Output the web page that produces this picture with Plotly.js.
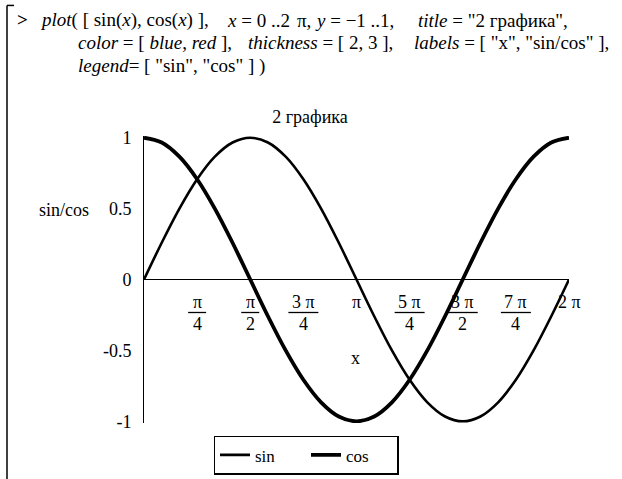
<!DOCTYPE html>
<html>
<head>
<meta charset="utf-8">
<script src="https://cdn.plot.ly/plotly-3.0.1.min.js"></script>
<style>html,body{margin:0;padding:0;background:#fff;}#chart{width:622px;height:479px;}</style>
</head>
<body>
<div id="chart"></div>
<script>
// ---- data ----
var xs = [0,0.2618,0.5236,0.7854,1.0472,1.309,1.5708,1.8326,2.0944,2.3562,2.618,2.8798,3.1416,3.4034,3.6652,3.927,4.1888,4.4506,4.7124,4.9742,5.236,5.4978,5.7596,6.0214,6.2832];
var sinVals = [0,0.259,0.5,0.707,0.866,0.966,1,0.966,0.866,0.707,0.5,0.259,0,-0.259,-0.5,-0.707,-0.866,-0.966,-1,-0.966,-0.866,-0.707,-0.5,-0.259,0];
var cosVals = [1,0.966,0.866,0.707,0.5,0.259,0,-0.259,-0.5,-0.707,-0.866,-0.966,-1,-0.966,-0.866,-0.707,-0.5,-0.259,0,0.259,0.5,0.707,0.866,0.966,1];
var seriesNames = ['sin','cos'];
var xTickVals = [0.7854,1.5708,2.3562,3.1416,3.927,4.7124,5.4978,6.2832];
var xTickNum = ['π','π','3 π','π','5 π','3 π','7 π','2 π'];
var xTickDen = ['4','2','4','','4','2','4',''];
var yTickVals = [-1,-0.5,0,0.5,1];
var yTickText = ['-1','-0.5','0','0.5','1'];
var codeTexts = [
  '<i>plot</i>( [ sin(<i>x</i>), cos(<i>x</i>) ],', '<i>x</i> = 0 ..2', 'π,', '<i>y</i> = −1 ..1,', '<i>title</i> = "2 графика",',
  '<i>color</i> = [ <i>blue</i>, <i>red</i> ],', '<i>thickness</i> = [ 2, 3 ],', '<i>labels</i> = [ "x", "sin/cos" ],',
  '<i>legend</i>= [ "sin", "cos" ] )'
];
var codeRow = [0, 0, 0, 0, 0, 1, 1, 1, 2];

// ---- layout helpers ----
var FW = 622, FH = 479;
var L = 144, R = 569, T = 136.3, B = 422.7;
var PW = R - L, PH = B - T;
function px(x){ return (x - L) / PW; }
function py(y){ return (B - y) / PH; }
var FONT = 'Liberation Serif';
var codeSegX = [39, 226, 296, 314, 417, 77, 247, 413, 77];
var rowY = [21, 43, 66];

var traces = [
  {x: xs, y: sinVals, name: seriesNames[0], type: 'scatter', mode: 'lines',
   line: {color: '#000', width: 2.6, shape: 'spline'}},
  {x: xs, y: cosVals, name: seriesNames[1], type: 'scatter', mode: 'lines',
   line: {color: '#000', width: 3.8, shape: 'spline'}}
];

var annotations = [];
var shapes = [];

// x tick labels as fractions
xTickVals.forEach(function(v, i){
  annotations.push({x: v, y: 0, xref: 'x', yref: 'y', text: xTickNum[i], showarrow: false,
    xanchor: 'center', yanchor: 'middle', yshift: -22, font: {family: FONT, size: 18, color: '#000'}});
  if (xTickDen[i]) {
    annotations.push({x: v, y: 0, xref: 'x', yref: 'y', text: xTickDen[i], showarrow: false,
      xanchor: 'center', yanchor: 'middle', yshift: -44, font: {family: FONT, size: 18, color: '#000'}});
    var w = xTickNum[i].length > 1 ? 15 : 9;
    shapes.push({type: 'line', xref: 'x', yref: 'y', xsizemode: 'pixel', ysizemode: 'pixel',
      xanchor: v, yanchor: 0, x0: -w, x1: w, y0: -33, y1: -33, line: {color: '#000', width: 1.3}});
  }
});

// axis labels
annotations.push({x: px(355), y: py(358), xref: 'paper', yref: 'paper', text: 'x', showarrow: false,
  xanchor: 'center', yanchor: 'middle', font: {family: FONT, size: 18, color: '#000'}});
annotations.push({x: px(64), y: py(210), xref: 'paper', yref: 'paper', text: 'sin/cos', showarrow: false,
  xanchor: 'center', yanchor: 'middle', font: {family: FONT, size: 18, color: '#000'}});

// Maple input code
annotations.push({x: px(15), y: py(20), xref: 'paper', yref: 'paper', text: '<b>&gt;</b>', showarrow: false,
  xanchor: 'left', yanchor: 'middle', font: {family: FONT, size: 19, color: '#000'}});
codeTexts.forEach(function(t, i){
  annotations.push({x: px(codeSegX[i]), y: py(rowY[codeRow[i]]), xref: 'paper', yref: 'paper', text: t,
    showarrow: false, xanchor: 'left', yanchor: 'middle', borderpad: 0,
    font: {family: FONT, size: 19, color: '#000'}});
});

// worksheet bracket
shapes.push({type: 'line', xref: 'paper', yref: 'paper', x0: px(7), x1: px(7), y0: py(6), y1: py(479),
  line: {color: '#000', width: 1.5}});
shapes.push({type: 'line', xref: 'paper', yref: 'paper', x0: px(7), x1: px(14), y0: py(6), y1: py(6),
  line: {color: '#000', width: 1.5}});

var layout = {
  width: FW, height: FH,
  margin: {l: L, r: FW - R, t: T, b: FH - B, pad: 0, autoexpand: false},
  paper_bgcolor: '#fff', plot_bgcolor: '#fff',
  font: {family: FONT, size: 18, color: '#000'},
  title: {text: '2 графика', xref: 'paper', x: px(310), xanchor: 'center',
          yref: 'container', y: 1 - 117 / FH, yanchor: 'middle', automargin: false,
          font: {family: FONT, size: 18, color: '#000'}},
  xaxis: {range: [0, 6.2832], showgrid: false, zeroline: false, showline: false, automargin: false,
          showticklabels: false, ticks: '', fixedrange: true},
  yaxis: {range: [-1.012, 1.012], showgrid: false, zeroline: true, zerolinecolor: '#000', zerolinewidth: 1,
          showline: true, linecolor: '#000', linewidth: 1, ticks: '', automargin: false,
          tickvals: yTickVals, ticktext: yTickText, ticklabelstandoff: 8,
          tickfont: {family: FONT, size: 18, color: '#000'}, fixedrange: true},
  showlegend: true,
  legend: {orientation: 'h', x: px(306), xanchor: 'center', y: py(455), yanchor: 'middle',
           bordercolor: '#000', borderwidth: 1.5, bgcolor: '#fff', entrywidth: 46,
           font: {family: FONT, size: 17, color: '#000'}},
  annotations: annotations,
  shapes: shapes
};

Plotly.newPlot('chart', traces, layout, {displayModeBar: false, staticPlot: true});
</script>
</body>
</html>
